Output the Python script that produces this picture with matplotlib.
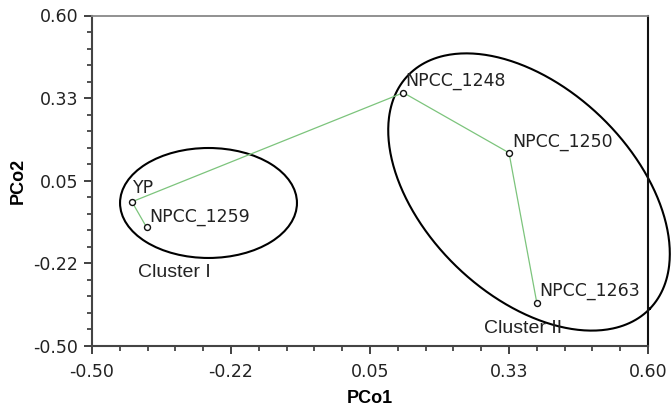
import numpy as np
import matplotlib
matplotlib.use("Agg")
import matplotlib.pyplot as plt
from matplotlib.patches import Ellipse
from matplotlib.ticker import FixedLocator, AutoMinorLocator

# ---- data ----
names = ["YP", "NPCC_1259", "NPCC_1248", "NPCC_1250", "NPCC_1263"]
pco1 = [-0.421, -0.392, 0.116, 0.325, 0.380]
pco2 = [-0.020, -0.105, 0.343, 0.143, -0.356]
edges = [("YP", "NPCC_1259"), ("YP", "NPCC_1248"),
         ("NPCC_1248", "NPCC_1250"), ("NPCC_1250", "NPCC_1263")]
tick_vals = [-0.50, -0.225, 0.05, 0.325, 0.60]
tick_labels = ["-0.50", "-0.22", "0.05", "0.33", "0.60"]
cluster_names = ["Cluster I", "Cluster II"]
cluster_text_xy = [(-0.409, -0.271), (0.2755, -0.456)]

# ---- figure ----
fig = plt.figure(figsize=(6.71, 4.08), dpi=100)
ax = fig.add_axes([92/671, 62/408, 556/671, 330.5/408])
ax.set_xlim(-0.5, 0.6)
ax.set_ylim(-0.5, 0.6)

tick_font = dict(family="DejaVu Sans", size=12.5, color="#222222")
ax.xaxis.set_major_locator(FixedLocator(tick_vals))
ax.yaxis.set_major_locator(FixedLocator(tick_vals))
ax.set_xticklabels(tick_labels, **tick_font)
ax.set_yticklabels(tick_labels, **tick_font)
ax.xaxis.set_minor_locator(AutoMinorLocator(5))
ax.yaxis.set_minor_locator(AutoMinorLocator(5))
ax.tick_params(which="major", direction="out", length=6, width=1.3, color="#333333", pad=4)
ax.tick_params(axis="x", which="major", pad=6)
ax.tick_params(which="minor", direction="out", length=3.5, width=1.2, color="#333333")
ax.tick_params(top=False, right=False, which="both")

for side in ["left", "bottom"]:
    ax.spines[side].set_linewidth(1.5)
    ax.spines[side].set_color("#444444")
ax.spines["top"].set_linewidth(1.3)
ax.spines["top"].set_color("#888888")
ax.spines["right"].set_linewidth(1.5)
ax.spines["right"].set_color("#111111")

ax.set_xlabel("PCo1", family="Liberation Sans", weight="bold", size=13, labelpad=7)
ax.set_ylabel("PCo2", family="Liberation Sans", weight="bold", size=13, labelpad=5)

# ---- tree edges ----
idx = {n: i for i, n in enumerate(names)}
for a, b in edges:
    ax.plot([pco1[idx[a]], pco1[idx[b]]], [pco2[idx[a]], pco2[idx[b]]],
            color="#7cc47c", lw=0.9, zorder=2)

ax.plot(pco1, pco2, ls="none", marker="o", ms=4.3, mfc="white", mec="#111111",
        mew=1.0, zorder=3)

label_offsets = {"YP": (1, 6), "NPCC_1259": (2, 4), "NPCC_1248": (1.5, 5),
                 "NPCC_1250": (2, 4.5), "NPCC_1263": (2, 5)}
for n, x, y in zip(names, pco1, pco2):
    ax.annotate(n, (x, y), xytext=label_offsets[n], textcoords="offset points",
                ha="left", va="baseline", family="DejaVu Sans", size=12.5,
                color="#222222", zorder=4)

# ---- cluster ellipses ----
ax.add_patch(Ellipse((-0.2695, -0.024), 0.350, 0.366, fill=False,
                     ec="black", lw=1.5, zorder=1))

# Cluster II: rotated ellipse defined in screen space
fig.canvas.draw()
cx, cy = ax.transData.transform((0.3646, 0.0126))
a_px, b_px, ang = 168.0, 104.0, np.deg2rad(-44.0)
t = np.linspace(0, 2 * np.pi, 400)
dx = a_px * np.cos(t) * np.cos(ang) - b_px * np.sin(t) * np.sin(ang)
dy = a_px * np.cos(t) * np.sin(ang) + b_px * np.sin(t) * np.cos(ang)
pts = ax.transData.inverted().transform(np.column_stack([cx + dx, cy + dy]))
ax.plot(pts[:, 0], pts[:, 1], color="black", lw=1.5, clip_on=False, zorder=1)

for name, (tx, ty) in zip(cluster_names, cluster_text_xy):
    ax.text(tx, ty, name, family="Liberation Sans", size=14, color="#222222",
            ha="left", va="baseline")

fig.savefig("out.png", dpi=100)
